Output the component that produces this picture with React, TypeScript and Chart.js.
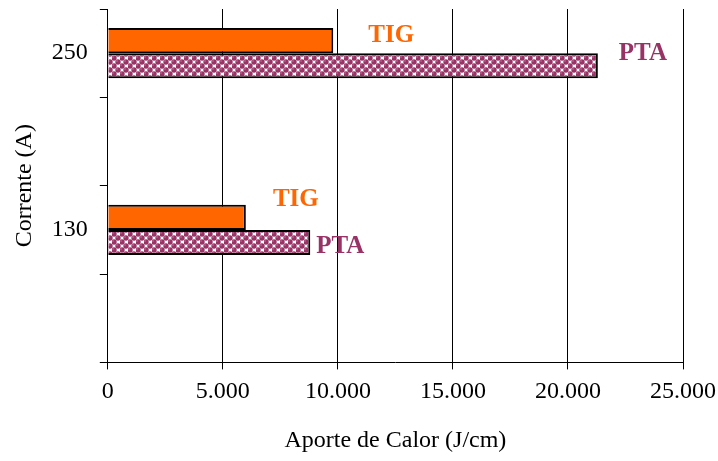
import React, { useEffect, useRef } from "react";
import { Chart, registerables } from "chart.js";

Chart.register(...registerables);

// Data
const categories = ["250", "", "130", ""];
const tigValues = [9800, null, 6000, null];
const ptaValues = [21300, null, 8800, null];
const xTicks = [0, 5000, 10000, 15000, 20000, 25000];

// Bar-end labels: [dataset, category index, text]
const barLabels: [number, number, string][] = [
  [0, 0, "TIG"],
  [1, 0, "PTA"],
  [0, 2, "TIG"],
  [1, 2, "PTA"],
];
// pixel offsets of each label from bar end / category centre
const labelOffsets: [number, number][] = [
  [58, -17.5],
  [45, 0.5],
  [50, -30.5],
  [30, 16.5],
];

const ORANGE = "#FF6600";
const MAROON = "#993366";
const FONT = "'Liberation Serif', 'Times New Roman', serif";

function makePattern(ctx: CanvasRenderingContext2D): CanvasPattern | string {
  const c = document.createElement("canvas");
  c.width = 8;
  c.height = 8;
  const g = c.getContext("2d");
  if (!g) return MAROON;
  g.fillStyle = "#ffffff";
  g.fillRect(0, 0, 8, 8);
  const dot = (x: number, y: number) => {
    g.fillStyle = MAROON;
    g.beginPath();
    g.arc(x, y, 2.7, 0, Math.PI * 2);
    g.fill();
    g.fillStyle = "#e0b0cc";
    g.fillRect(x - 1.5, y - 1.5, 1, 1);
  };
  dot(2, 2);
  dot(6, 6);
  dot(10, 6);
  dot(-2, 6);
  dot(6, -2);
  dot(2, 10);
  dot(10, 10);
  dot(-2, -2);
  return ctx.createPattern(c, "repeat") || MAROON;
}

function fmt(v: number): string {
  const s = String(Math.round(v));
  return s.replace(/\B(?=(\d{3})+(?!\d))/g, ".");
}

const labelPlugin = {
  id: "barEndLabels",
  afterDatasetsDraw(chart: any) {
    const ctx = chart.ctx;
    const xs = chart.scales.x;
    const ys = chart.scales.y;
    ctx.save();
    ctx.font = `bold 25px ${FONT}`;
    ctx.textAlign = "center";
    ctx.textBaseline = "middle";
    barLabels.forEach(([ds, idx, text], i) => {
      const val = chart.data.datasets[ds].data[idx];
      const x = xs.getPixelForValue(val) + labelOffsets[i][0];
      const y = ys.getPixelForValue(idx) + labelOffsets[i][1];
      ctx.fillStyle = ds === 0 ? ORANGE : MAROON;
      ctx.fillText(text, x, y);
    });
    ctx.restore();
  },
};

export default function App() {
  const ref = useRef<HTMLCanvasElement>(null);
  useEffect(() => {
    document.body.style.margin = "0";
    const canvas = ref.current!;
    const ctx = canvas.getContext("2d")!;
    const pattern = makePattern(ctx);
    const chart = new Chart(canvas, {
      type: "bar",
      data: {
        labels: categories,
        datasets: [
          {
            label: "TIG",
            data: tigValues,
            backgroundColor: ORANGE,
            borderColor: "#000",
            borderWidth: 2,
            categoryPercentage: 0.57,
            barPercentage: 1,
          },
          {
            label: "PTA",
            data: ptaValues,
            backgroundColor: pattern as any,
            borderColor: "#000",
            borderWidth: 2,
            categoryPercentage: 0.57,
            barPercentage: 1,
          },
        ],
      },
      options: {
        indexAxis: "y",
        animation: false,
        responsive: false,
        maintainAspectRatio: false,
        layout: { padding: { top: 9, right: 35, left: 10, bottom: 6 } },
        plugins: {
          legend: { display: false },
          tooltip: { enabled: false },
        },
        scales: {
          x: {
            min: 0,
            max: 25000,
            afterBuildTicks: (s: any) => {
              s.ticks = xTicks.map((v) => ({ value: v }));
            },
            afterFit: (s: any) => {
              s.paddingLeft = 0;
              s.paddingRight = 0;
            },
            ticks: {
              color: "#000",
              font: { family: FONT, size: 24 },
              padding: 8,
              maxRotation: 0,
              callback: (v: any) => fmt(Number(v)),
            },
            grid: { color: "#000", lineWidth: 1, tickLength: 7 },
            border: { color: "#000", width: 1 },
            title: {
              display: true,
              text: "Aporte de Calor (J/cm)",
              color: "#000",
              font: { family: FONT, size: 24 },
              padding: { top: 12, bottom: 0 },
            },
          },
          y: {
            afterFit: (s: any) => {
              s.paddingTop = 0;
              s.paddingBottom = 0;
            },
            ticks: {
              color: "#000",
              font: { family: FONT, size: 24 },
              padding: 12,
            },
            grid: {
              offset: true,
              drawOnChartArea: false,
              color: "#000",
              tickLength: 8,
            },
            border: { color: "#000", width: 1 },
            title: {
              display: true,
              text: "Corrente (A)",
              color: "#000",
              font: { family: FONT, size: 24 },
              padding: { top: 0, bottom: 1 },
            },
          },
        },
      },
      plugins: [labelPlugin],
    });
    return () => chart.destroy();
  }, []);
  return (
    <div style={{ width: 718, height: 461, position: "relative", background: "#fff" }}>
      <canvas ref={ref} width={718} height={461} style={{ width: 718, height: 461 }} />
    </div>
  );
}
